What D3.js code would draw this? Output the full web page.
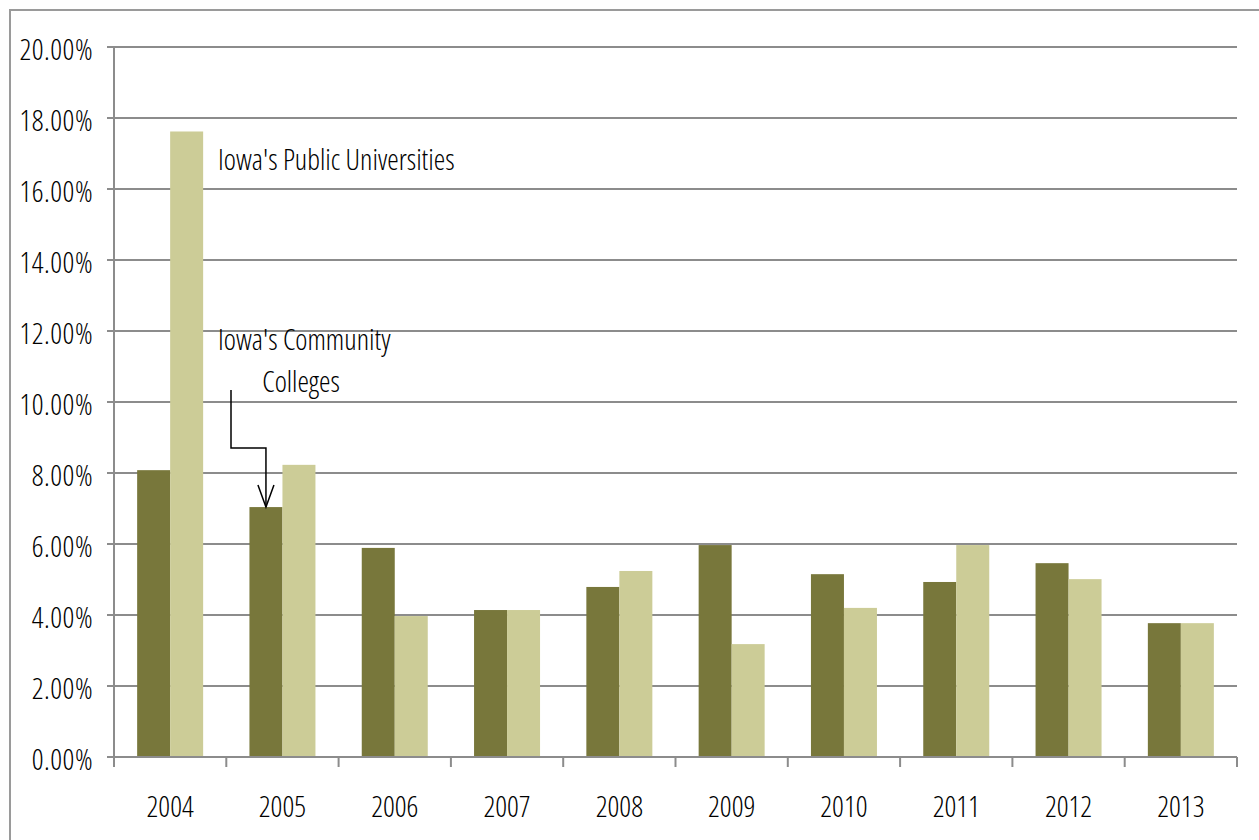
<!DOCTYPE html>
<html><head><meta charset="utf-8">
<script src="https://cdn.jsdelivr.net/npm/d3@7"></script>
<style>
body{margin:0;background:#fff;}
text{font-family:"Open Sans",sans-serif;font-stretch:condensed;font-weight:300;fill:#000;}
</style></head><body>
<svg id="c" width="1259" height="840"></svg>
<script>
const years = ["2004","2005","2006","2007","2008","2009","2010","2011","2012","2013"];
const communityColleges = [8.08,7.04,5.89,4.14,4.79,5.97,5.15,4.93,5.46,3.77];
const publicUniversities = [17.62,8.23,3.97,4.14,5.24,3.18,4.20,5.97,5.01,3.77];
const yTicks = [0,2,4,6,8,10,12,14,16,18,20];
const seriesNames = ["Iowa's Community Colleges","Iowa's Public Universities"];

const svg = d3.select("#c");
const L=114, R=1237, T=47, B=757;
const FS=29;
svg.append("rect").attr("x",10).attr("y",10).attr("width",1300).attr("height",900)
  .attr("fill","none").attr("stroke","#9a9a9a").attr("stroke-width",2);

const x = d3.scaleBand().domain(years).range([L,R]);
const y = d3.scaleLinear().domain([0,20]).range([B,T]);
const grid="#8c8c8c";

svg.append("g").selectAll("line").data(yTicks.filter(d=>d>0)).join("line")
  .attr("x1",L-7).attr("x2",R).attr("y1",d=>y(d)).attr("y2",d=>y(d))
  .attr("stroke",grid).attr("stroke-width",2);
svg.append("g").selectAll("text").data(yTicks).join("text")
  .attr("x",93).attr("y",d=>y(d)+3).attr("dy","0.36em").attr("text-anchor","end")
  .attr("letter-spacing",0.5)
  .attr("font-size",FS).text(d=>d.toFixed(2)+"%");

const bw = 33;
const g = svg.append("g");
g.selectAll("rect.cc").data(years).join("rect").attr("class","cc")
  .attr("x",(d)=>x(d)+x.bandwidth()/2-bw).attr("width",bw)
  .attr("y",(d,i)=>y(communityColleges[i])).attr("height",(d,i)=>B-y(communityColleges[i]))
  .attr("fill","#78773b");
g.selectAll("rect.pu").data(years).join("rect").attr("class","pu")
  .attr("x",(d)=>x(d)+x.bandwidth()/2).attr("width",bw)
  .attr("y",(d,i)=>y(publicUniversities[i])).attr("height",(d,i)=>B-y(publicUniversities[i]))
  .attr("fill","#cccc97");

svg.append("line").attr("x1",L).attr("x2",L).attr("y1",T).attr("y2",B+10).attr("stroke",grid).attr("stroke-width",2);
svg.append("line").attr("x1",L-7).attr("x2",R).attr("y1",B).attr("y2",B).attr("stroke",grid).attr("stroke-width",2);
const bounds = years.map(d=>x(d)).concat([R]);
svg.append("g").selectAll("line").data(bounds).join("line")
  .attr("x1",d=>d).attr("x2",d=>d).attr("y1",B).attr("y2",B+10).attr("stroke",grid).attr("stroke-width",2);
svg.append("g").selectAll("text").data(years).join("text")
  .attr("x",d=>x(d)+x.bandwidth()/2).attr("y",817).attr("text-anchor","middle")
  .attr("font-size",FS).text(d=>d);

svg.append("text").attr("x",218).attr("y",170).attr("font-size",FS).text(seriesNames[1]);
svg.append("text").attr("x",218).attr("y",350).attr("font-size",FS).text("Iowa's Community");
svg.append("text").attr("x",301).attr("y",392).attr("text-anchor","middle").attr("font-size",FS).text("Colleges");
const tipX = x("2005")+x.bandwidth()/2-bw/2, tipY = y(communityColleges[1]);
svg.append("path").attr("d",`M231,390 V448 H${tipX} V${tipY}`).attr("fill","none").attr("stroke","#000").attr("stroke-width",1.5);
svg.append("path").attr("d",`M${tipX-8},${tipY-22} L${tipX},${tipY} L${tipX+8},${tipY-22}`).attr("fill","none").attr("stroke","#000").attr("stroke-width",1.5);
</script></body></html>
